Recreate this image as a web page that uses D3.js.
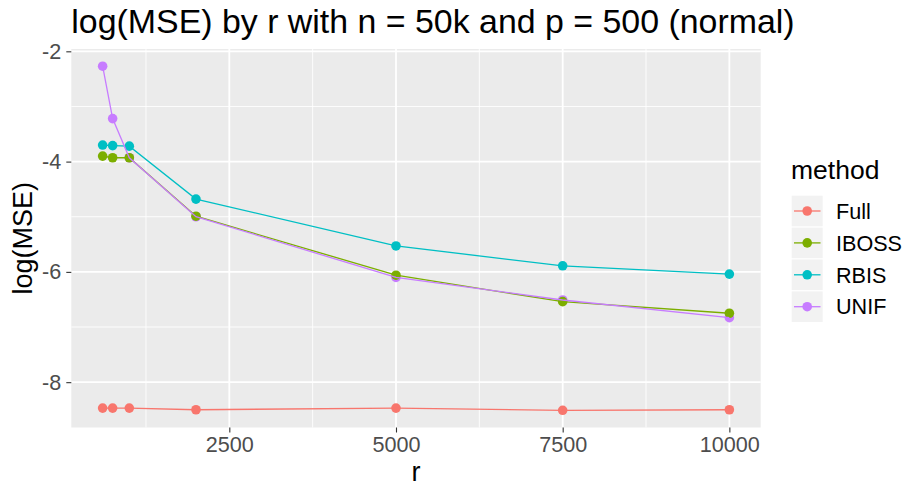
<!DOCTYPE html>
<html>
<head>
<meta charset="utf-8">
<script src="https://cdn.jsdelivr.net/npm/d3@7"></script>
<style>
  body { margin: 0; background: #fff; }
  svg text { font-family: "Liberation Sans", Arial, sans-serif; }
</style>
</head>
<body>
<svg id="chart"></svg>
<script>
// data
const rValues = [600, 750, 1000, 2000, 5000, 7500, 10000];
const methods = ["Full", "IBOSS", "RBIS", "UNIF"];
const fullMSE  = [-8.47, -8.47, -8.47, -8.50, -8.47, -8.51, -8.50];
const ibossMSE = [-3.90, -3.93, -3.93, -4.99, -6.06, -6.54, -6.75];
const rbisMSE  = [-3.70, -3.71, -3.72, -4.68, -5.53, -5.89, -6.04];
const unifMSE  = [-2.27, -3.22, -3.93, -5.00, -6.10, -6.51, -6.83];
const xTicks = [2500, 5000, 7500, 10000];
const yTicks = [-8, -6, -4, -2];

const colors = ["#F8766D", "#7CAE00", "#00BFC4", "#C77CFF"];

const svgWidth = 906;
const svgHeight = 488;
const panel = { left: 71.3, right: 760.7, top: 49, bottom: 427.5 };

let series = methods.map((m, i) => ({
    method: m,
    color: colors[i],
    values: rValues.map((r, j) => ({ r: r, v: [fullMSE, ibossMSE, rbisMSE, unifMSE][i][j] }))
}));

// ggplot style 5% expansion
function expand(ext) {
    let pad = (ext[1] - ext[0]) * 0.05;
    return [ext[0] - pad, ext[1] + pad];
}
let allV = [].concat(fullMSE, ibossMSE, rbisMSE, unifMSE);
let scaleX = d3.scaleLinear().domain(expand(d3.extent(rValues))).range([panel.left, panel.right]);
let scaleY = d3.scaleLinear().domain(expand(d3.extent(allV))).range([panel.bottom, panel.top]);

let svg = d3.select("#chart")
    .attr("width", svgWidth)
    .attr("height", svgHeight);

// panel background
svg.append("rect")
    .attr("x", panel.left).attr("y", panel.top)
    .attr("width", panel.right - panel.left)
    .attr("height", panel.bottom - panel.top)
    .attr("fill", "#EBEBEB");

// minor grid
let xMinor = [1250, 3750, 6250, 8750];
let yMinor = [-7, -5, -3];
svg.append("g").selectAll("line").data(xMinor).enter().append("line")
    .attr("x1", d => scaleX(d)).attr("x2", d => scaleX(d))
    .attr("y1", panel.top).attr("y2", panel.bottom)
    .attr("stroke", "#fff").attr("stroke-width", 0.9);
svg.append("g").selectAll("line").data(yMinor).enter().append("line")
    .attr("y1", d => scaleY(d)).attr("y2", d => scaleY(d))
    .attr("x1", panel.left).attr("x2", panel.right)
    .attr("stroke", "#fff").attr("stroke-width", 0.9);

// major grid
svg.append("g").selectAll("line").data(xTicks).enter().append("line")
    .attr("x1", d => scaleX(d)).attr("x2", d => scaleX(d))
    .attr("y1", panel.top).attr("y2", panel.bottom)
    .attr("stroke", "#fff").attr("stroke-width", 1.8);
svg.append("g").selectAll("line").data(yTicks).enter().append("line")
    .attr("y1", d => scaleY(d)).attr("y2", d => scaleY(d))
    .attr("x1", panel.left).attr("x2", panel.right)
    .attr("stroke", "#fff").attr("stroke-width", 1.8);

// axes
let xAxis = svg.append("g")
    .attr("transform", "translate(0," + panel.bottom + ")")
    .call(d3.axisBottom(scaleX).tickValues(xTicks).tickSize(5).tickPadding(4).tickFormat(d3.format("d")));
let yAxis = svg.append("g")
    .attr("transform", "translate(" + panel.left + ",0)")
    .call(d3.axisLeft(scaleY).tickValues(yTicks).tickSize(5).tickPadding(5).tickFormat(d => String(d)));
[xAxis, yAxis].forEach(ax => {
    ax.select(".domain").remove();
    ax.selectAll(".tick line").attr("stroke", "#333333").attr("stroke-width", 1.1);
    ax.selectAll(".tick text")
        .attr("fill", "#4D4D4D")
        .style("font-size", "21.6px")
        .style("font-family", "Liberation Sans, Arial, sans-serif");
});

// points first, then lines on top
let line = d3.line().x(d => scaleX(d.r)).y(d => scaleY(d.v));
let pointOrder = [0, 2, 3, 1];
pointOrder.forEach(i => {
    svg.append("g").selectAll("circle")
        .data(series[i].values)
        .enter()
        .append("circle")
        .attr("cx", d => scaleX(d.r))
        .attr("cy", d => scaleY(d.v))
        .attr("r", 4.8)
        .attr("fill", series[i].color);
});
series.forEach(s => {
    svg.append("path")
        .datum(s.values)
        .attr("d", line)
        .attr("fill", "none")
        .attr("stroke", s.color)
        .attr("stroke-width", 1.3);
});

// title and axis titles
svg.append("text")
    .attr("x", panel.left).attr("y", 33)
    .style("font-size", "33.9px")
    .attr("fill", "#000")
    .text("log(MSE) by r with n = 50k and p = 500 (normal)");

svg.append("text")
    .attr("x", (panel.left + panel.right) / 2).attr("y", 481)
    .attr("text-anchor", "middle")
    .style("font-size", "27px")
    .text("r");

svg.append("text")
    .attr("transform", "translate(32," + ((panel.top + panel.bottom) / 2) + ") rotate(-90)")
    .attr("text-anchor", "middle")
    .style("font-size", "27px")
    .text("log(MSE)");

// legend
let legend = svg.append("g");
legend.append("text")
    .attr("x", 791).attr("y", 179)
    .style("font-size", "26.5px")
    .text("method");

legend.selectAll("g.key")
    .data(series)
    .enter()
    .append("g")
    .attr("class", "key")
    .each(function (d, i) {
        let g = d3.select(this);
        let cy = 211 + i * 31.9;
        g.append("rect")
            .attr("x", 791.7).attr("y", cy - 15.3)
            .attr("width", 31).attr("height", 30.6)
            .attr("fill", "#F2F2F2");
        g.append("line")
            .attr("x1", 794).attr("x2", 820.5)
            .attr("y1", cy).attr("y2", cy)
            .attr("stroke", d.color).attr("stroke-width", 1.3);
        g.append("circle")
            .attr("cx", 807.2).attr("cy", cy).attr("r", 4.8)
            .attr("fill", d.color);
        g.append("text")
            .attr("x", 836).attr("y", cy)
            .attr("dy", "0.36em")
            .style("font-size", "21.6px")
            .text(d.method);
    });
</script>
</body>
</html>
